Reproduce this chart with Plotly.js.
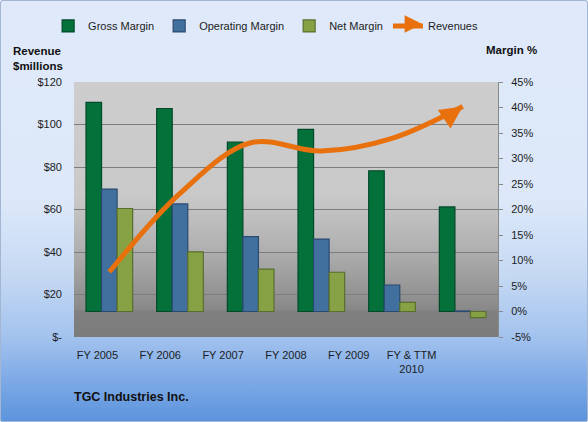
<!DOCTYPE html>
<html>
<head>
<meta charset="utf-8">
<script src="https://cdn.plot.ly/plotly-3.0.1.min.js"></script>
<style>
  html, body { margin: 0; padding: 0; background: #ffffff; }
  #chart {
    width: 588px; height: 422px;
    background: linear-gradient(to bottom, #dfe9fa 0%, #dce8f9 48%, #c4d8f3 66%, #a2c2ee 80%, #7eaae6 90%, #5b93dc 100%);
    box-shadow: inset 0 0 0 1px #a3b6d2;
    border-radius: 3px;
  }
</style>
</head>
<body>
<div id="chart"></div>
<script>
// Fiscal periods
const categories = ['FY 2005', 'FY 2006', 'FY 2007', 'FY 2008', 'FY 2009', 'FY & TTM<br>2010'];

// Margins, percent of revenue
const grossMargin     = [41.0, 39.8, 33.2, 35.7, 27.6, 20.5];
const operatingMargin = [24.0, 21.1, 14.7, 14.2,  5.2,  0.1];
const netMargin       = [20.2, 11.7,  8.3,  7.7,  1.8, -1.2];

// Revenues, $ millions
const revenues = [30.6, 67.6, 91.4, 87.5, 93.5, 108.5];

// Axis tick labels
const revenueTickVals = [0, 20, 40, 60, 80, 100, 120];
const revenueTickText = ['$-', '$20', '$40', '$60', '$80', '$100', '$120'];
const marginTickVals  = [-5, 0, 5, 10, 15, 20, 25, 30, 35, 40, 45];
const marginTickText  = ['-5%', '0%', '5%', '10%', '15%', '20%', '25%', '30%', '35%', '40%', '45%'];

const FONT = 'Liberation Sans, Arial, sans-serif';
const ORANGE = '#E8710E';
const periodIndex = categories.map((c, i) => i);

function barTrace(name, values, fill, edge) {
  return {
    type: 'bar', name: name, x: categories, y: values,
    xaxis: 'x', yaxis: 'y',
    marker: { color: fill, line: { color: edge, width: 1.2 } },
    hoverinfo: 'skip'
  };
}

const data = [
  barTrace('Gross Margin', grossMargin, '#04713A', '#02492A'),
  barTrace('Operating Margin', operatingMargin, '#41709F', '#2A4A70'),
  barTrace('Net Margin', netMargin, '#86A245', '#5A6E2E'),
  {
    type: 'scatter', mode: 'lines', name: 'Revenues',
    x: categories, y: revenues, xaxis: 'x', yaxis: 'y2',
    line: { color: ORANGE, width: 5, shape: 'spline', smoothing: 1 },
    hoverinfo: 'skip'
  },
  {
    // empty carrier so the floor-edge label axis gets drawn
    type: 'scatter', mode: 'markers', x: periodIndex, y: periodIndex.map(() => null),
    xaxis: 'x3', yaxis: 'y', showlegend: false, hoverinfo: 'skip',
    marker: { opacity: 0 }
  }
];

// Gray back wall shading behind the plot area
const wallSvg =
  "<svg xmlns='http://www.w3.org/2000/svg' width='100' height='100' preserveAspectRatio='none'>" +
  "<defs><linearGradient id='g' x1='0' y1='0' x2='0' y2='1'>" +
  "<stop offset='0' stop-color='#cdcdcd'/>" +
  "<stop offset='0.44' stop-color='#c9c9c9'/>" +
  "<stop offset='0.64' stop-color='#b2b2b2'/>" +
  "<stop offset='0.89' stop-color='#898989'/>" +
  "<stop offset='0.9' stop-color='#808080'/>" +
  "<stop offset='1' stop-color='#7c7c7c'/>" +
  "</linearGradient></defs><rect width='100' height='100' fill='url(#g)'/></svg>";

const plotDomain = [0.0318, 0.9955];

const layout = {
  width: 588, height: 422,
  margin: { l: 60, r: 88, t: 82, b: 85, autoexpand: false },
  paper_bgcolor: 'rgba(0,0,0,0)',
  plot_bgcolor: 'rgba(0,0,0,0)',
  font: { family: FONT, size: 11, color: '#1c1c1c' },
  barmode: 'group', bargap: 0.34, bargroupgap: 0,
  showlegend: true,
  legend: {
    orientation: 'h', x: -0.027, xanchor: 'left', y: 1.22, yanchor: 'middle',
    font: { family: FONT, size: 11, color: '#1c1c1c' },
    bgcolor: 'rgba(0,0,0,0)', traceorder: 'normal'
  },
  xaxis: {
    domain: plotDomain, type: 'category', range: [-0.5, 5.5],
    showticklabels: false, showgrid: false, zeroline: false, showline: false, ticks: ''
  },
  // front edge of the floor carries the period labels
  xaxis3: {
    domain: [0.0136, 0.8705], anchor: 'free', position: 0,
    range: [-0.5, 5.5], tickmode: 'array',
    tickvals: periodIndex, ticktext: categories,
    showgrid: false, zeroline: false, showline: false, ticks: '',
    ticklabelstandoff: 10,
    tickfont: { family: FONT, size: 11, color: '#1c1c1c' }
  },
  // margin % (bars), right side
  yaxis: {
    side: 'right', anchor: 'x', range: [-5, 45],
    tickmode: 'array', tickvals: marginTickVals, ticktext: marginTickText,
    ticks: 'outside', ticklen: 4, tickcolor: '#8a8a8a',
    showline: true, linecolor: '#8a8a8a', linewidth: 1,
    showgrid: false, zeroline: false, ticklabelstandoff: 6,
    tickfont: { family: FONT, size: 11, color: '#1c1c1c' }
  },
  // revenue (line), left side
  yaxis2: {
    side: 'left', overlaying: 'y', anchor: 'x', range: [0, 120],
    tickmode: 'array', tickvals: revenueTickVals, ticktext: revenueTickText,
    ticks: '', showline: false, zeroline: false,
    showgrid: true, gridcolor: '#7d7d7d', gridwidth: 1,
    ticklabelstandoff: 11,
    tickfont: { family: FONT, size: 11, color: '#1c1c1c' }
  },
  images: [{
    source: 'data:image/svg+xml;utf8,' + encodeURIComponent(wallSvg),
    xref: 'paper', yref: 'paper',
    x: plotDomain[0], y: 1, sizex: plotDomain[1] - plotDomain[0], sizey: 1,
    xanchor: 'left', yanchor: 'top', sizing: 'stretch', layer: 'below'
  }],
  annotations: [
    {
      text: '<b>Revenue<br>$millions</b>', xref: 'paper', yref: 'paper',
      x: -0.112, y: 1.094, xanchor: 'left', yanchor: 'middle', align: 'left',
      showarrow: false, font: { family: FONT, size: 11.5, color: '#111' }
    },
    {
      text: '<b>Margin %</b>', xref: 'paper', yref: 'paper',
      x: 0.963, y: 1.125, xanchor: 'left', yanchor: 'middle',
      showarrow: false, font: { family: FONT, size: 11.5, color: '#111' }
    },
    {
      text: '<b>TGC Industries Inc.</b>', xref: 'paper', yref: 'paper',
      x: 0.027, y: -0.235, xanchor: 'left', yanchor: 'middle',
      showarrow: false, font: { family: FONT, size: 12.5, color: '#111' }
    },
    {
      // arrowhead at the latest revenue point
      text: ' ', xref: 'x', yref: 'y2',
      x: categories[categories.length - 1], y: revenues[revenues.length - 1],
      ax: -16, ay: 11, showarrow: true, arrowhead: 2, arrowsize: 0.9,
      arrowwidth: 5, arrowcolor: ORANGE, standoff: 0
    },
    {
      // arrowhead on the Revenues legend key
      text: ' ', xref: 'paper', yref: 'paper',
      x: 0.823, y: 1.2275,
      ax: -10, ay: 0, showarrow: true, arrowhead: 2, arrowsize: 0.7,
      arrowwidth: 5, arrowcolor: ORANGE, standoff: 0
    }
  ]
};

Plotly.newPlot('chart', data, layout, { staticPlot: true, displayModeBar: false });
</script>
</body>
</html>
